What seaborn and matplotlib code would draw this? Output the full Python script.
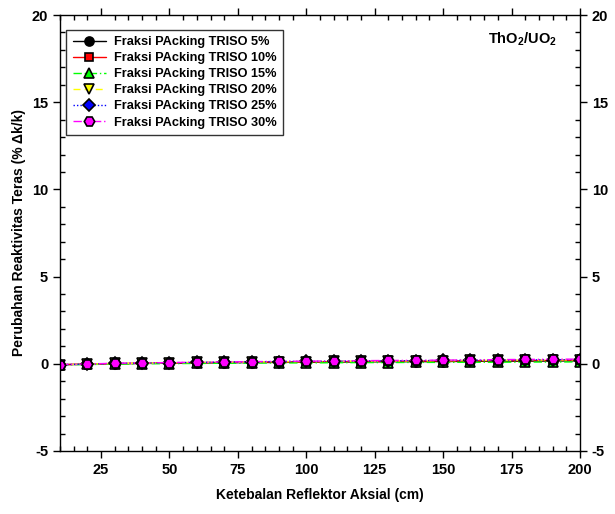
import numpy as np
import pandas as pd
import matplotlib
matplotlib.use("Agg")
import matplotlib.pyplot as plt
from matplotlib.ticker import MultipleLocator
import seaborn as sns

x_vals = [10, 20, 30, 40, 50, 60, 70, 80, 90, 100, 110, 120, 130, 140, 150, 160, 170, 180, 190, 200]
labels = ["Fraksi PAcking TRISO 5%", "Fraksi PAcking TRISO 10%", "Fraksi PAcking TRISO 15%",
          "Fraksi PAcking TRISO 20%", "Fraksi PAcking TRISO 25%", "Fraksi PAcking TRISO 30%"]
y_5 = [-0.05, -0.03, 0.00, 0.02, 0.03, 0.05, 0.06, 0.07, 0.08, 0.09, 0.10, 0.11, 0.12, 0.12, 0.13, 0.14, 0.15, 0.15, 0.16, 0.17]
y_10 = [-0.05, -0.02, 0.01, 0.03, 0.05, 0.06, 0.08, 0.09, 0.10, 0.11, 0.12, 0.13, 0.14, 0.15, 0.16, 0.17, 0.18, 0.18, 0.19, 0.20]
y_15 = [-0.06, -0.04, -0.02, 0.00, 0.01, 0.02, 0.03, 0.04, 0.05, 0.05, 0.06, 0.07, 0.07, 0.08, 0.08, 0.09, 0.09, 0.10, 0.10, 0.11]
y_20 = [-0.05, -0.02, 0.02, 0.04, 0.06, 0.08, 0.09, 0.11, 0.12, 0.13, 0.14, 0.15, 0.16, 0.17, 0.18, 0.19, 0.20, 0.21, 0.22, 0.23]
y_25 = [-0.05, -0.02, 0.02, 0.04, 0.06, 0.08, 0.10, 0.11, 0.13, 0.14, 0.15, 0.16, 0.17, 0.18, 0.19, 0.20, 0.21, 0.22, 0.23, 0.24]
y_30 = [-0.05, -0.01, 0.03, 0.05, 0.07, 0.09, 0.11, 0.12, 0.14, 0.15, 0.16, 0.18, 0.19, 0.20, 0.21, 0.22, 0.24, 0.25, 0.26, 0.27]
series = [y_5, y_10, y_15, y_20, y_25, y_30]

colors = ["black", "red", "#00ff00", "#ffff00", "blue", "#ff00ff"]
markers = ["o", "s", "^", "v", "D", "H"]
styles = ["-", "-", (0, (6, 2, 1, 2)), (0, (5, 3)), (0, (1, 1.5)), (0, (6, 2, 1, 2, 1, 2))]
msizes = [6.5, 6, 6.5, 6.5, 6, 7.5]

df = pd.DataFrame({
    "x": np.tile(x_vals, len(labels)),
    "y": np.concatenate(series),
    "series": np.repeat(labels, len(x_vals)),
})

sns.set_style("ticks")
plt.rcParams["font.family"] = ["Liberation Sans", "DejaVu Sans"]
plt.rcParams["font.weight"] = "bold"
plt.rcParams["axes.unicode_minus"] = False
plt.rcParams["text.color"] = "black"
plt.rcParams["axes.labelcolor"] = "black"
plt.rcParams["xtick.color"] = "black"
plt.rcParams["ytick.color"] = "black"
plt.rcParams["mathtext.fontset"] = "custom"
plt.rcParams["mathtext.rm"] = "Liberation Sans:bold"
plt.rcParams["mathtext.bf"] = "Liberation Sans:bold"
plt.rcParams["mathtext.it"] = "Liberation Sans:bold"

fig = plt.figure(figsize=(6.15, 5.14), dpi=100)
ax = fig.add_axes([0.0976, 0.1226, 0.8454, 0.8482])

for lab, col, mk, ls, ms in zip(labels, colors, markers, styles, msizes):
    sub = df[df["series"] == lab]
    sns.lineplot(data=sub, x="x", y="y", ax=ax, color=col, marker=mk, linestyle=ls,
                 markersize=ms, markeredgecolor="black", markeredgewidth=1.2,
                 linewidth=1, label=lab, estimator=None, sort=False)

ax.set_xlim(10, 200)
ax.set_ylim(-5, 20)
ax.xaxis.set_major_locator(MultipleLocator(25))
ax.xaxis.set_minor_locator(MultipleLocator(5))
ax.yaxis.set_major_locator(MultipleLocator(5))
ax.yaxis.set_minor_locator(MultipleLocator(1))
ax.tick_params(which="major", direction="out", length=5, width=1, labelsize=10.5,
               top=True, right=True, labelright=True, colors="black")
ax.tick_params(which="minor", direction="in", length=3.5, width=1, top=True, right=True,
               colors="black")
for lbl in ax.get_xticklabels() + ax.get_yticklabels() + ax.get_yticklabels(which="major"):
    lbl.set_fontweight("bold")
for lbl in ax.yaxis.get_ticklabels():
    lbl.set_fontweight("bold")
for s in ax.spines.values():
    s.set_visible(True)
    s.set_linewidth(1)
    s.set_color("black")

ax.set_xlabel("Ketebalan Reflektor Aksial (cm)", fontsize=10, fontweight="bold", labelpad=8,
              color="black")
ax.set_ylabel("Perubahan Reaktivitas Teras (% \u0394k/k)", fontsize=10, fontweight="bold",
              labelpad=4, color="black")

ax.text(0.955, 0.945, r"ThO$_2$/UO$_2$", transform=ax.transAxes, ha="right", va="center",
        fontsize=10.5, fontweight="bold", color="black")

leg = ax.legend(loc="upper left", bbox_to_anchor=(0.005, 0.975), fontsize=9.2, frameon=True,
                fancybox=False, shadow=False, handlelength=2.6, borderpad=0.5,
                labelspacing=0.32, handletextpad=0.6, borderaxespad=0.3)
leg.get_frame().set_edgecolor("black")
leg.get_frame().set_linewidth(1)
for t in leg.get_texts():
    t.set_fontweight("bold")
    t.set_color("black")

fig.savefig("out.png", dpi=100)
